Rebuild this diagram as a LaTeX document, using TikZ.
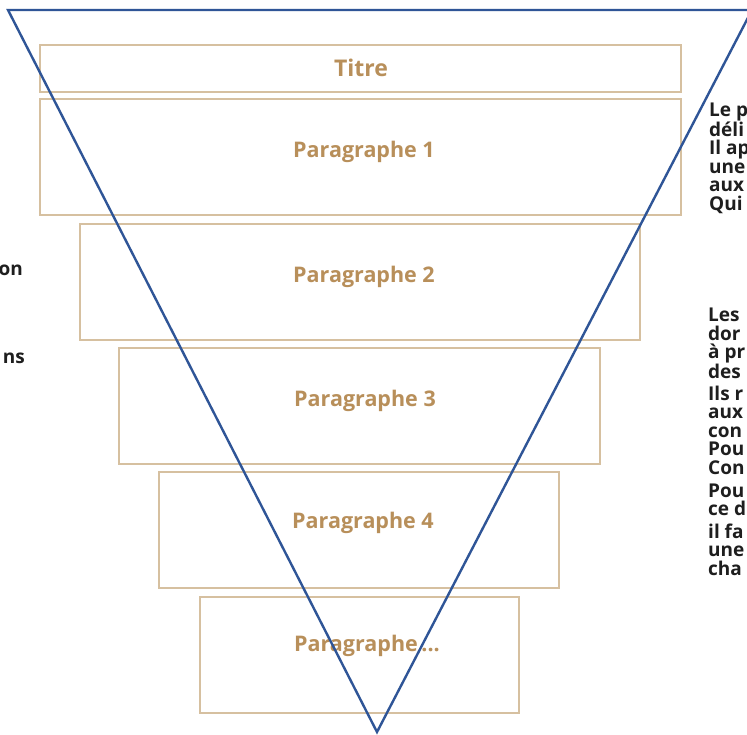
\documentclass[tikz,border=0pt]{standalone}
\usepackage{fontspec}
\setmainfont{Open Sans}
\definecolor{tan}{HTML}{D6C0A0}
\definecolor{tantext}{HTML}{B88F5A}
\definecolor{funnel}{HTML}{2F5597}
\definecolor{sidetext}{HTML}{1E1E1E}
\begin{document}
\begin{tikzpicture}[x=1pt,y=-1pt,
  boxstyle/.style={draw=tan,line width=1.8pt,fill=white,inner sep=0pt},
  labelstyle/.style={text=tantext,font=\bfseries\fontsize{21.5}{24}\selectfont},
  sidestyle/.style={anchor=west,inner sep=0pt,font=\bfseries\fontsize{19}{18.5}\selectfont,text=sidetext,align=left}]
\useasboundingbox (0,0) rectangle (747,735);
\clip (0,0) rectangle (747,735);
\fill[white] (0,0) rectangle (747,735);
% boxes
\node[boxstyle,minimum width=641pt,minimum height=47pt] (titre) at (360.5,68.5) {};
\node[boxstyle,minimum width=641pt,minimum height=116pt] (p1) at (360.5,157) {};
\node[boxstyle,minimum width=560pt,minimum height=116pt] (p2) at (360,282) {};
\node[boxstyle,minimum width=481pt,minimum height=116pt] (p3) at (359.5,406) {};
\node[boxstyle,minimum width=400pt,minimum height=116pt] (p4) at (359,530) {};
\node[boxstyle,minimum width=319pt,minimum height=116pt] (p5) at (359.5,655) {};
% labels
\node[labelstyle,font=\bfseries\fontsize{23}{26}\selectfont] (l0) at (361,68) {Titre};
\node[labelstyle] (l1) at (364,152) {Paragraphe 1};
\node[labelstyle] (l2) at (364,277) {Paragraphe 2};
\node[labelstyle] (l3) at (365,401) {Paragraphe 3};
\node[labelstyle] (l4) at (363,523) {Paragraphe 4};
\node[labelstyle] (l5) at (367,646) {Paragraphe\,...};
% funnel
\coordinate (tl) at (8,10);
\coordinate (tr) at (752,10);
\coordinate (apex) at (377,732);
\draw[funnel,line width=2.4pt,line join=miter] (tl) -- (tr) -- (apex) -- cycle;
% side texts (cut by the page edge)
\node[sidestyle] (r1) at (709,158) {Le p\\déli\\Il ap\\une\\aux\\Qui};
\node[sidestyle] (r2) at (708,343.5) {Les\\dor\\à pr\\des};
\node[sidestyle] (r3) at (708,430) {Ils r\\aux\\con\\Pou\\Con};
\node[sidestyle] (r4) at (708,500) {Pou\\ce d};
\node[sidestyle] (r5) at (708,549.5) {il fa\\une\\cha};
\node[sidestyle,anchor=east] (lft1) at (23,270) {on};
\node[sidestyle,anchor=east] (lft2) at (25,358) {ns};
\end{tikzpicture}
\end{document}
